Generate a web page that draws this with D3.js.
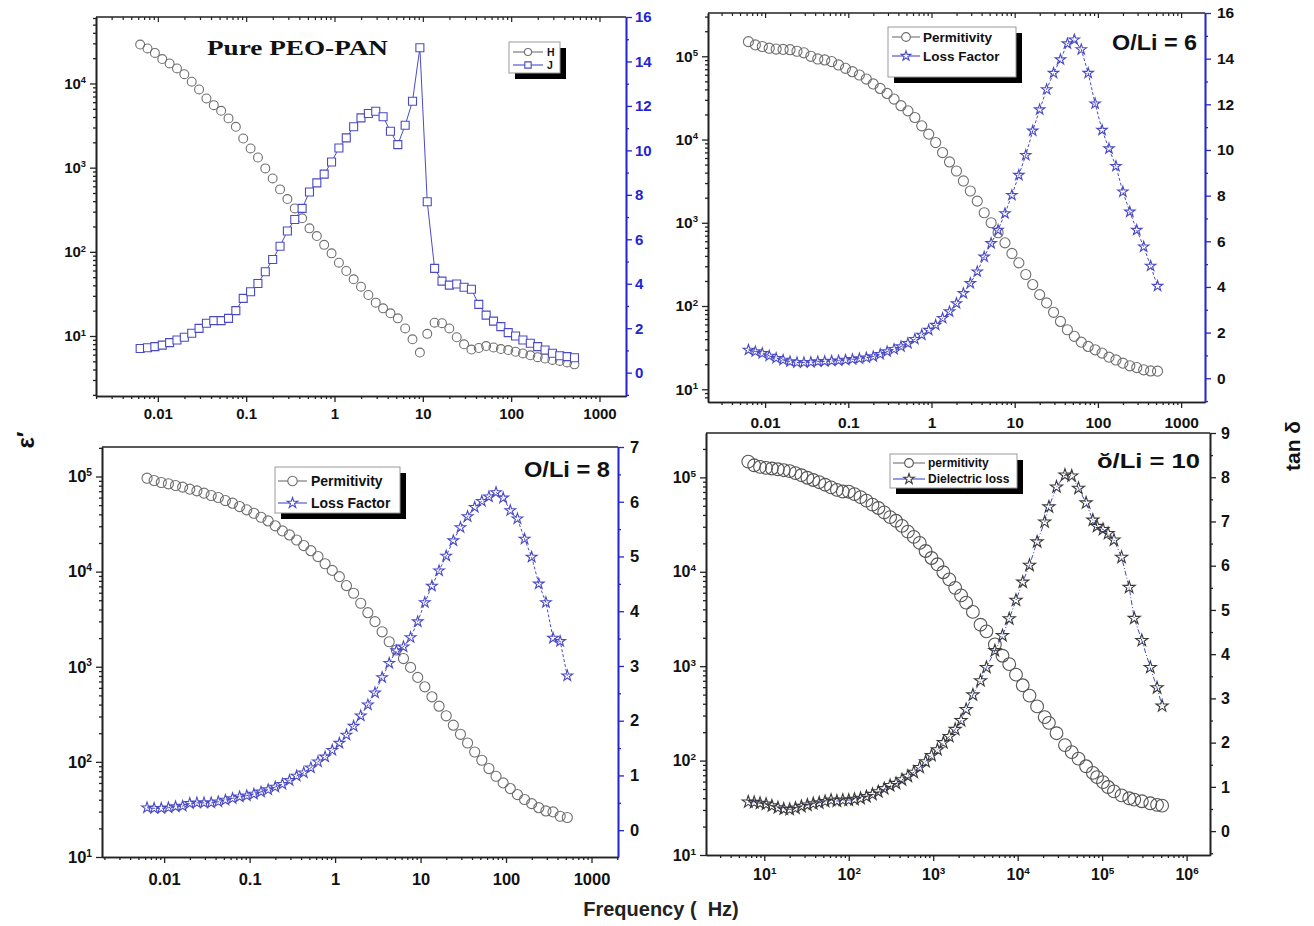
<!DOCTYPE html>
<html lang="en">
  <head>
    <meta charset="utf-8" />
    <script src="https://cdn.jsdelivr.net/npm/d3@7/dist/d3.min.js"></script>
    <title>Permittivity and loss vs frequency</title>
    <style>
      body { margin: 0; background: #fff; }
      text { font-family: "Liberation Sans", Arial, sans-serif; font-weight: bold; }
    </style>
  </head>
  <body>
    <div id="container"></div>

    <script>
      const width = 1314;
      const height = 926;

      // frequency grid (Hz) for the first three samples
      const freqA = [
        0.00631, 0.00764, 0.00926, 0.01122, 0.01359, 0.01647, 0.01995, 0.02418, 0.02929, 0.03548, 0.04299, 0.05208,
        0.0631, 0.0764, 0.0926, 0.1122, 0.1359, 0.1647, 0.1995, 0.2418, 0.2929, 0.3548, 0.4299, 0.5208,
        0.631, 0.764, 0.926, 1.122, 1.359, 1.647, 1.995, 2.418, 2.929, 3.548, 4.299, 5.208,
        6.31, 7.64, 9.26, 11.22, 13.59, 16.47, 19.95, 24.18, 29.29, 35.48, 42.99, 52.08,
        63.1, 76.4, 92.6, 112.2, 135.9, 164.7, 199.5, 241.8, 292.9, 354.8, 429.9, 520.8
      ];

      // Pure PEO-PAN
      const pureH = [
        29000, 26100, 23100, 19500, 17300, 15100, 12900, 10500, 8490, 6640,
        5530, 4740, 3850, 3060, 2220, 1690, 1320, 980, 745, 552,
        424, 328, 250, 190, 154, 121, 95.9, 74.3, 59.2, 47.1,
        38.5, 30.7, 24.9, 21.3, 18.6, 16.2, 12.3, 9.14, 6.35, 10.6,
        14.4, 14.2, 12.3, 9.66, 7.96, 6.9, 7.2, 7.6, 7.3, 7.0,
        6.8, 6.5, 6.2, 5.9, 5.6, 5.4, 5.2, 5.05, 4.85, 4.6
      ];
      const pureJ = [
        1.09, 1.12, 1.17, 1.24, 1.35, 1.47, 1.59, 1.77, 1.99, 2.22,
        2.34, 2.34, 2.44, 2.79, 3.34, 3.64, 4.01, 4.54, 5.09, 5.69,
        6.37, 6.89, 7.39, 8.13, 8.54, 8.93, 9.48, 10.11, 10.56, 11.06,
        11.46, 11.66, 11.76, 11.51, 10.86, 10.26, 11.13, 12.21, 14.62, 7.69,
        4.69, 4.12, 3.94, 3.99, 3.84, 3.75, 3.07, 2.59, 2.32, 2.07,
        1.8, 1.65, 1.47, 1.32, 1.17, 1.02, 0.87, 0.76, 0.72, 0.67
      ];

      // O/Li = 6
      const li6Perm = [
        150000, 137000, 131000, 125000, 122000, 121000, 120000, 115000, 110000, 100000,
        92900, 90400, 86300, 78700, 71600, 65300, 59600, 53300, 46500, 41100,
        35800, 30600, 25500, 22100, 18400, 14600, 11600, 9200, 6970, 5380,
        4190, 3180, 2410, 1820, 1320, 1000, 759, 574, 428, 330,
        239, 181, 137, 109, 84.0, 65.3, 51.9, 43.2, 36.8, 32.7,
        29.8, 27.2, 24.3, 22.5, 20.6, 19.1, 18.2, 17.1, 16.6, 16.5
      ];
      const li6Loss = [
        1.24, 1.17, 1.09, 0.98, 0.88, 0.8, 0.73, 0.69, 0.69, 0.7,
        0.73, 0.74, 0.76, 0.77, 0.8, 0.83, 0.86, 0.9, 0.95, 1.05,
        1.17, 1.27, 1.39, 1.53, 1.71, 1.9, 2.11, 2.33, 2.63, 2.92,
        3.28, 3.72, 4.16, 4.67, 5.32, 5.91, 6.49, 7.22, 8.02, 8.9,
        9.77, 10.84, 11.77, 12.65, 13.37, 13.96, 14.66, 14.83, 14.4, 13.37,
        12.03, 10.87, 10.06, 9.29, 8.17, 7.29, 6.49, 5.76, 4.92, 4.04
      ];

      // O/Li = 8
      const li8Perm = [
        95900, 90800, 86500, 83800, 80400, 77300, 73600, 70600, 66800, 63100,
        60100, 55800, 52400, 48300, 44600, 41100, 37300, 34100, 30300, 26800,
        24300, 21500, 18800, 16600, 14400, 12100, 10300, 8850, 7130, 5920,
        4650, 3700, 2980, 2330, 1830, 1500, 1220, 984, 773, 615,
        483, 385, 305, 243, 195, 158, 127, 104, 85.1, 70.6,
        60.1, 52.4, 45.3, 40.2, 36.4, 33.0, 30.5, 29.8, 26.8, 26.0
      ];
      const li8Loss = [
        0.41, 0.4, 0.4, 0.41, 0.43, 0.44, 0.49, 0.5, 0.5, 0.5,
        0.52, 0.55, 0.58, 0.61, 0.63, 0.66, 0.7, 0.74, 0.79, 0.84,
        0.91, 0.99, 1.05, 1.14, 1.25, 1.34, 1.46, 1.59, 1.74, 1.9,
        2.09, 2.29, 2.51, 2.79, 3.05, 3.28, 3.35, 3.52, 3.81, 4.16,
        4.46, 4.74, 5.01, 5.29, 5.53, 5.73, 5.9, 6.01, 6.09, 6.17,
        6.07, 5.84, 5.69, 5.32, 4.99, 4.5, 4.16, 3.51, 3.45, 2.82
      ];

      // O/Li = 10 (own frequency axis)
      const freqB = [
        6.46, 7.59, 8.91, 10.5, 12.3, 14.5, 17.0, 20.0, 23.4, 27.5,
        32.4, 38.0, 44.7, 52.5, 61.7, 72.4, 85.1, 100, 117, 138,
        162, 191, 224, 263, 309, 363, 427, 501, 589, 692,
        813, 955, 1122, 1318, 1549, 1820, 2138, 2455, 2951, 3631,
        4266, 5370, 6607, 7943, 9550, 11482, 13804, 16982, 20893, 23442,
        28840, 36308, 43652, 52481, 64565, 77625, 87096, 102329, 117490, 138038,
        169824, 208930, 239883, 295121, 371535, 446684, 512861
      ];
      const li10Perm = [
        146900, 134300, 129100, 126200, 124200, 121900, 119100, 116400, 110900, 105400,
        99100, 93800, 88900, 83600, 78300, 73800, 70800, 70500, 66500, 61700,
        56800, 51400, 47400, 42500, 37900, 34700, 30600, 26600, 23400, 20200,
        16600, 14000, 12000, 9890, 8320, 6760, 5620, 4710, 3760, 2750,
        2340, 1700, 1290, 1050, 813, 628, 488, 375, 289, 251,
        195, 146, 123, 105, 87.1, 74.0, 66.8, 59.2, 52.5, 47.2,
        42.8, 39.9, 38.6, 37.1, 35.3, 34.0, 33.3
      ];
      const li10Loss = [
        0.66, 0.65, 0.63, 0.61, 0.57, 0.53, 0.5, 0.49, 0.52, 0.56,
        0.59, 0.62, 0.64, 0.67, 0.7, 0.68, 0.7, 0.7, 0.72, 0.74,
        0.78, 0.83, 0.89, 0.96, 1.03, 1.08, 1.16, 1.24, 1.33, 1.44,
        1.57, 1.71, 1.84, 2.0, 2.14, 2.3, 2.5, 2.75, 3.08, 3.4,
        3.7, 4.08, 4.42, 4.8, 5.22, 5.63, 6.01, 6.54, 6.99, 7.33,
        7.78, 8.05, 8.03, 7.75, 7.42, 7.03, 6.89, 6.82, 6.73, 6.58,
        6.19, 5.51, 4.81, 4.31, 3.7, 3.24, 2.83
      ];

      const xTicksA = [0.01, 0.1, 1, 10, 100, 1000];
      const xLabelsA = ["0.01", "0.1", "1", "10", "100", "1000"];
      const xTicksB = [1e1, 1e2, 1e3, 1e4, 1e5, 1e6];
      const yTicks4 = [1e1, 1e2, 1e3, 1e4];
      const yTicks5 = [1e1, 1e2, 1e3, 1e4, 1e5];
      const rTicks16 = [0, 2, 4, 6, 8, 10, 12, 14, 16];
      const rTicks7 = [0, 1, 2, 3, 4, 5, 6, 7];
      const rTicks9 = [0, 1, 2, 3, 4, 5, 6, 7, 8, 9];

      const gray = "#6f6f6f";
      const blue = "#4a4ac6";
      const axisBlue = "#2424d2";

      const svg = d3.select("#container").append("svg").attr("width", width).attr("height", height);

      function logMinors(dom) {
        const out = [];
        const lo = Math.floor(Math.log10(dom[0])), hi = Math.ceil(Math.log10(dom[1]));
        for (let e = lo; e <= hi; e++)
          for (let m = 2; m <= 9; m++) {
            const v = m * Math.pow(10, e);
            if (v >= dom[0] && v <= dom[1]) out.push(v);
          }
        return out;
      }

      function supLabels(sel) {
        sel.selectAll(".tick text").each(function (d) {
          const t = d3.select(this);
          t.text(null);
          t.append("tspan").text("10");
          t.append("tspan").attr("dy", "-0.6em").attr("font-size", "0.62em").text(Math.round(Math.log10(d)));
        });
      }

      function styleAxis(sel, color, fs, textColor) {
        sel.select(".domain").attr("stroke", color).attr("stroke-width", 1.6);
        sel.selectAll(".tick line").attr("stroke", color).attr("stroke-width", 1.3);
        sel.selectAll(".tick text").attr("fill", textColor || "#111").attr("font-size", fs);
      }

      const panels = [
        {
          left: 96, top: 17, right: 626, bottom: 396,
          xDomain: [Math.pow(10, -2.7), Math.pow(10, 3.3)], yDomain: [Math.pow(10, 0.287), Math.pow(10, 4.79)], rDomain: [-1.05, 16],
          xTicks: xTicksA, xLabels: xLabelsA, yTicks: yTicks4, rTicks: rTicks16, rStep: 2,
          rText: axisBlue, fs: 15, xPad: 6, rPad: 3, topTicks: true,
          freq: freqA,
          series: [
            { values: pureH, axis: "left", symbol: d3.symbolCircle, size: 62, color: gray, fill: "none" },
            { values: pureJ, axis: "right", symbol: d3.symbolSquare, size: 64, color: blue, fill: "#fff", line: blue }
          ],
          legend: { x: 509, y: 42, w: 51, h: 31, fs: 10.5, lx0: 513, lx1: 543, tx: 547,
            rows: [ { label: "H", y: 52, k: 0 }, { label: "J", y: 65, k: 1 } ], msize: [40, 40] },
          title: { text: "Pure PEO-PAN", x: 207, y: 55, fs: 22, len: 181, serif: true }
        },
        {
          left: 708, top: 13, right: 1205, bottom: 402,
          xDomain: [Math.pow(10, -2.686), Math.pow(10, 3.287)], yDomain: [Math.pow(10, 0.847), Math.pow(10, 5.52)], rDomain: [-1.04, 16],
          xTicks: xTicksA, xLabels: xLabelsA, yTicks: yTicks5, rTicks: rTicks16, rStep: 2,
          rText: "#111", fs: 15.5, xPad: 9, rPad: 6, topTicks: true,
          freq: freqA,
          series: [
            { values: li6Perm, axis: "left", symbol: d3.symbolCircle, size: 80, color: gray, fill: "none" },
            { values: li6Loss, axis: "right", symbol: d3.symbolStar, size: 34, color: blue, fill: "none", line: blue, dash: "3,2" }
          ],
          legend: { x: 888, y: 27, w: 128, h: 50, fs: 13.5, lx0: 892, lx1: 920, tx: 923,
            rows: [ { label: "Permitivity", y: 37, k: 0 }, { label: "Loss Factor", y: 56, k: 1 } ], msize: [60, 30] },
          title: { text: "O/Li = 6", x: 1112, y: 50, fs: 22, len: 85 }
        },
        {
          left: 102, top: 447, right: 618, bottom: 857,
          xDomain: [Math.pow(10, -2.727), Math.pow(10, 3.31)], yDomain: [10, Math.pow(10, 5.31)], rDomain: [-0.49, 7],
          xTicks: xTicksA, xLabels: xLabelsA, yTicks: yTicks5, rTicks: rTicks7, rStep: 1,
          rText: "#111", fs: 16.5, xPad: 10, rPad: 6, topTicks: false,
          freq: freqA,
          series: [
            { values: li8Perm, axis: "left", symbol: d3.symbolCircle, size: 80, color: gray, fill: "none" },
            { values: li8Loss, axis: "right", symbol: d3.symbolStar, size: 36, color: blue, fill: "none", line: blue, dash: "3,2" }
          ],
          legend: { x: 275, y: 467, w: 125, h: 46, fs: 14, lx0: 278, lx1: 307, tx: 311,
            rows: [ { label: "Permitivity", y: 481, k: 0 }, { label: "Loss Factor", y: 503, k: 1 } ], msize: [70, 34] },
          title: { text: "O/Li = 8", x: 524, y: 477, fs: 22, len: 86 }
        },
        {
          left: 706, top: 433, right: 1210, bottom: 855,
          xDomain: [Math.pow(10, 0.31), Math.pow(10, 6.277)], yDomain: [10, Math.pow(10, 5.47)], rDomain: [-0.54, 9],
          xTicks: xTicksB, xSup: true, yTicks: yTicks5, rTicks: rTicks9, rStep: 1,
          rText: "#111", fs: 16, xPad: 8, rPad: 5, topTicks: false, rColor: "#222",
          freq: freqB,
          series: [
            { values: li10Perm, axis: "left", symbol: d3.symbolCircle, size: 128, color: "#555", fill: "none" },
            { values: li10Loss, axis: "right", symbol: d3.symbolStar, size: 46, color: "#3a3a3a", fill: "none", line: "#3b4bd0", dash: "5,2,1,2" }
          ],
          legend: { x: 890, y: 454, w: 127, h: 34, fs: 12, lx0: 893, lx1: 925, tx: 928,
            rows: [ { label: "permitivity", y: 463, k: 0 }, { label: "Dielectric loss", y: 479, k: 1 } ], msize: [60, 34] },
          title: { text: "\u014F/Li = 10", x: 1097, y: 468, fs: 21, len: 103 }
        }
      ];

      function drawPanel(p) {
        const g = svg.append("g");
        const x = d3.scaleLog().domain(p.xDomain).range([p.left, p.right]);
        const y = d3.scaleLog().domain(p.yDomain).range([p.bottom, p.top]);
        const r = d3.scaleLinear().domain(p.rDomain).range([p.bottom, p.top]);
        const rColor = p.rColor || axisBlue;

        // bottom axis
        const bx = g.append("g").attr("transform", `translate(0,${p.bottom})`);
        bx.call(d3.axisBottom(x).tickValues(logMinors(p.xDomain)).tickFormat("").tickSize(3).tickSizeOuter(0));
        styleAxis(bx, "#222", p.fs);
        const bxMaj = g.append("g").attr("transform", `translate(0,${p.bottom})`);
        bxMaj.call(
          d3.axisBottom(x).tickValues(p.xTicks)
            .tickFormat((d, i) => (p.xSup ? "" : p.xLabels[i]))
            .tickSize(6).tickPadding(p.xPad).tickSizeOuter(0)
        );
        if (p.xSup) supLabels(bxMaj);
        styleAxis(bxMaj, "#222", p.fs);

        // top ticks (inward)
        if (p.topTicks) {
          const tx = g.append("g").attr("transform", `translate(0,${p.top})`);
          tx.call(d3.axisBottom(x).tickValues(logMinors(p.xDomain)).tickFormat("").tickSize(3).tickSizeOuter(0));
          tx.append("g").call(d3.axisBottom(x).tickValues(p.xTicks).tickFormat("").tickSize(5).tickSizeOuter(0));
          tx.selectAll(".domain").attr("stroke", "none");
          tx.selectAll(".tick line").attr("stroke", "#222").attr("stroke-width", 1.2);
        }

        // left log axis
        const ly = g.append("g").attr("transform", `translate(${p.left},0)`);
        ly.call(d3.axisLeft(y).tickValues(logMinors(p.yDomain)).tickFormat("").tickSize(3).tickSizeOuter(0));
        styleAxis(ly, "#222", p.fs);
        const lyMaj = g.append("g").attr("transform", `translate(${p.left},0)`);
        lyMaj.call(d3.axisLeft(y).tickValues(p.yTicks).tickFormat("").tickSize(6).tickPadding(4).tickSizeOuter(0));
        supLabels(lyMaj);
        styleAxis(lyMaj, "#222", p.fs);

        // top frame
        g.append("line").attr("x1", p.left).attr("x2", p.right).attr("y1", p.top).attr("y2", p.top)
          .attr("stroke", "#222").attr("stroke-width", 1.6);

        // right linear axis
        const minors = [];
        for (let v = p.rTicks[0] - p.rStep / 2; v <= p.rDomain[1]; v += p.rStep) if (v >= p.rDomain[0]) minors.push(v);
        const ry = g.append("g").attr("transform", `translate(${p.right},0)`);
        ry.call(d3.axisRight(r).tickValues(minors).tickFormat("").tickSize(3).tickSizeOuter(0));
        styleAxis(ry, rColor, p.fs);
        const ryMaj = g.append("g").attr("transform", `translate(${p.right},0)`);
        ryMaj.call(d3.axisRight(r).tickValues(p.rTicks).tickFormat(d3.format("d")).tickSize(6).tickPadding(p.rPad).tickSizeOuter(0));
        styleAxis(ryMaj, rColor, p.fs, p.rText);

        // data
        p.series.forEach((s) => {
          const pts = p.freq.map((f, i) => [x(f), s.axis === "left" ? y(s.values[i]) : r(s.values[i])]);
          if (s.line) {
            g.append("path").attr("d", d3.line()(pts)).attr("fill", "none")
              .attr("stroke", s.line).attr("stroke-width", 1).attr("stroke-dasharray", s.dash || null);
          }
          g.append("g").selectAll("path").data(pts).join("path")
            .attr("transform", (d) => `translate(${d[0]},${d[1]})`)
            .attr("d", d3.symbol(s.symbol, s.size)())
            .attr("fill", s.fill).attr("stroke", s.color).attr("stroke-width", 1.1);
        });

        // legend with drop shadow
        const L = p.legend;
        const lg = g.append("g");
        lg.append("rect").attr("x", L.x + 6).attr("y", L.y + 6).attr("width", L.w).attr("height", L.h).attr("fill", "#000");
        lg.append("rect").attr("x", L.x).attr("y", L.y).attr("width", L.w).attr("height", L.h)
          .attr("fill", "#fff").attr("stroke", "#999").attr("stroke-width", 1);
        L.rows.forEach((row) => {
          const s = p.series[row.k];
          const c = s.line || s.color;
          lg.append("line").attr("x1", L.lx0).attr("x2", L.lx1).attr("y1", row.y).attr("y2", row.y)
            .attr("stroke", row.k === 0 ? gray : c).attr("stroke-width", 1.1);
          lg.append("path").attr("transform", `translate(${(L.lx0 + L.lx1) / 2},${row.y})`)
            .attr("d", d3.symbol(s.symbol, L.msize[row.k])())
            .attr("fill", "#fff").attr("stroke", s.color).attr("stroke-width", 1.1);
          lg.append("text").attr("x", L.tx).attr("y", row.y).attr("dy", "0.36em")
            .attr("font-size", L.fs).attr("fill", "#111").text(row.label);
        });

        // panel title
        const T = p.title;
        g.append("text").attr("x", T.x).attr("y", T.y).attr("font-size", T.fs)
          .attr("textLength", T.len).attr("lengthAdjust", "spacingAndGlyphs")
          .style("font-family", T.serif ? '"Liberation Serif", "Times New Roman", serif' : null)
          .attr("fill", "#111").text(T.text);
      }

      panels.forEach(drawPanel);

      // shared axis titles
      svg.append("text").attr("transform", "translate(34,440) rotate(-90)").attr("text-anchor", "middle")
        .attr("font-size", 24).attr("fill", "#111").text("\u03B5\u2032");
      svg.append("text").attr("transform", "translate(1300,446) rotate(-90)").attr("text-anchor", "middle")
        .attr("font-size", 21).attr("fill", "#111").text("tan \u03B4");
      svg.append("text").attr("x", 661).attr("y", 916).attr("text-anchor", "middle")
        .attr("font-size", 20).attr("fill", "#222").text("Frequency (\u00A0\u00A0Hz)");
    </script>
  </body>
</html>
